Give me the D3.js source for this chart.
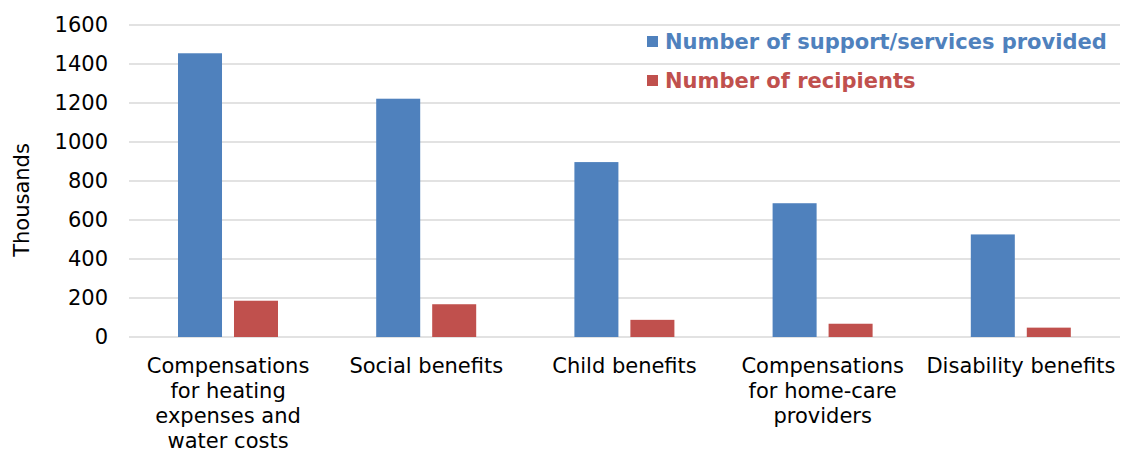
<!DOCTYPE html>
<html>
<head>
<meta charset="utf-8">
<script src="https://cdn.jsdelivr.net/npm/d3@7"></script>
<style>
  body { margin: 0; background: #fff; }
  svg { font-family: "DejaVu Sans", Verdana, sans-serif; }
</style>
</head>
<body>
<div id="chart"></div>
<script>
const categories = [
    ["Compensations", "for heating", "expenses and", "water costs"],
    ["Social benefits"],
    ["Child benefits"],
    ["Compensations", "for home-care", "providers"],
    ["Disability benefits"]
];
const series = ["Number of support/services provided", "Number of recipients"];
const services = [1455, 1222, 897, 686, 526];
const recipients = [186, 168, 88, 68, 48];
const y_ticks = [0, 200, 400, 600, 800, 1000, 1200, 1400, 1600];
const colors = ["#4F81BD", "#C0504D"];

const w = 1121, h = 450;
const m = {left: 129, right: 1, top: 25, bottom: 113};
const fs = "21px";

const svg = d3.select("#chart").append("svg").attr("width", w).attr("height", h);

const keys = categories.map((c, i) => i);

// scale_x
const x = d3.scaleBand().domain(keys).range([m.left, w - m.right]);
const x1 = d3.scaleBand().domain(series).range([49, 149]).paddingInner(0.214);

// scale_y
const y = d3.scaleLinear().domain([0, 1600]).range([h - m.bottom, m.top]);

// gridlines
svg.append("g").selectAll("line").data(y_ticks).enter().append("line")
    .attr("x1", m.left).attr("x2", w - m.right)
    .attr("y1", d => y(d)).attr("y2", d => y(d))
    .style("stroke", "#d9d9d9")
    .style("stroke-width", 1.5);

// axis_y
const axis_y = svg.append("g")
    .attr("transform", `translate(${m.left}, 0)`)
    .call(d3.axisLeft(y).tickValues(y_ticks).tickFormat(d3.format("d")).tickSize(0).tickPadding(21));
axis_y.attr("font-family", null).attr("font-size", null);
axis_y.select(".domain").remove();
axis_y.selectAll("text").style("font-size", fs).style("fill", "#000");

svg.append("text")
    .attr("transform", `translate(29, 200) rotate(-90)`)
    .attr("text-anchor", "middle")
    .style("font-size", fs)
    .text("Thousands");

// bars
const rows = keys.map(i => ({i, values: [services[i], recipients[i]]}));
const groups = svg.append("g").selectAll("g").data(rows).enter().append("g")
    .attr("transform", d => `translate(${x(d.i)}, 0)`);
groups.selectAll("rect").data(d => d.values.map((v, j) => ({s: series[j], v, j}))).enter().append("rect")
    .attr("x", d => x1(d.s))
    .attr("width", x1.bandwidth())
    .attr("y", d => y(d.v))
    .attr("height", d => y(0) - y(d.v))
    .style("fill", d => colors[d.j]);

// axis_x labels
const labels = svg.append("g").selectAll("text").data(rows).enter().append("text")
    .attr("x", d => x(d.i) + x.bandwidth() / 2)
    .attr("y", 373)
    .attr("text-anchor", "middle")
    .style("font-size", fs);
labels.selectAll("tspan").data(d => categories[d.i]).enter().append("tspan")
    .attr("x", function() { return d3.select(this.parentNode).attr("x"); })
    .attr("dy", (d, k) => k === 0 ? 0 : 25)
    .text(d => d);

// legend
const legend = svg.append("g").selectAll("g").data(series).enter().append("g")
    .attr("transform", (d, j) => `translate(647, ${42 + j * 39})`);
legend.append("rect")
    .attr("x", 0).attr("y", -6).attr("width", 11).attr("height", 11)
    .style("fill", (d, j) => colors[j]);
legend.append("text")
    .attr("x", 18).attr("dy", "0.35em")
    .style("font-size", fs)
    .style("font-weight", "bold")
    .style("fill", (d, j) => colors[j])
    .text(d => d);
</script>
</body>
</html>
